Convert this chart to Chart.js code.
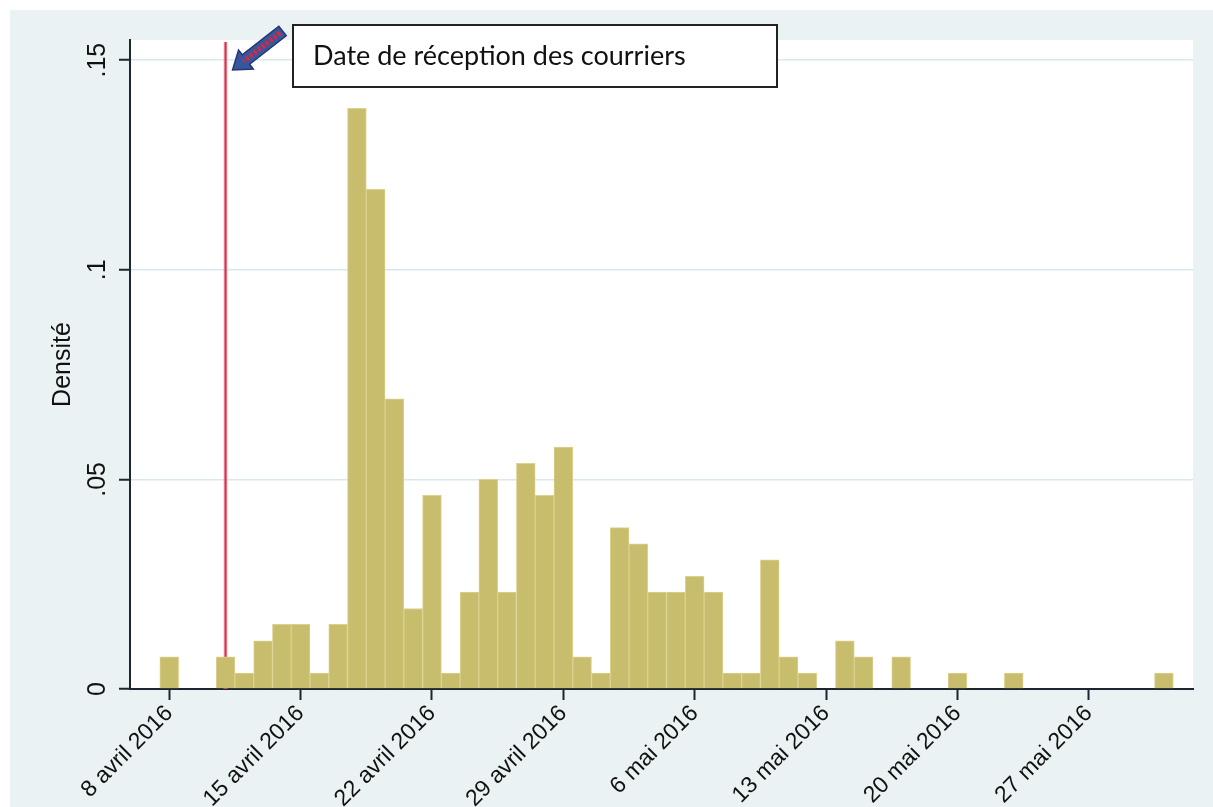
<!DOCTYPE html>
<html>
<head>
<meta charset="utf-8">
<script src="https://cdn.jsdelivr.net/npm/chart.js@4.4.1/dist/chart.umd.min.js"></script>
<style>
  html, body { margin: 0; padding: 0; background: #fff; }
  #wrap { width: 1213px; height: 807px; position: relative; }
</style>
</head>
<body>
<div id="wrap"><canvas id="histo"></canvas></div>
<script>
// --- Data (days counted from 8 avril 2016) ---
const binDay = [0, 3, 4, 5, 6, 7, 8, 9, 10, 11, 12, 13, 14, 15, 16, 17, 18, 19, 20, 21, 22,
  23, 24, 25, 26, 27, 28, 29, 30, 31, 32, 33, 34, 36, 37, 39, 42, 45, 53];
const density = [0.0077, 0.0077, 0.0038, 0.0115, 0.0154, 0.0154, 0.0038, 0.0154, 0.1385, 0.1192,
  0.0692, 0.0192, 0.0462, 0.0038, 0.0231, 0.05, 0.0231, 0.0538, 0.0462, 0.0577, 0.0077,
  0.0038, 0.0385, 0.0346, 0.0231, 0.0231, 0.0269, 0.0231, 0.0038, 0.0038, 0.0308, 0.0077,
  0.0038, 0.0115, 0.0077, 0.0077, 0.0038, 0.0038, 0.0038];

const tickDays = [0, 7, 14, 21, 28, 35, 42, 49];
const tickLabels = ["8 avril 2016", "15 avril 2016", "22 avril 2016", "29 avril 2016",
  "6 mai 2016", "13 mai 2016", "20 mai 2016", "27 mai 2016"];
const yTicks = [0, 0.05, 0.1, 0.15];
const yTickLabels = ["0", ".05", ".1", ".15"];

const receptionDay = 3; // 11 avril 2016
const noteText = "Date de réception des courriers";

const AXIS = "#1c2630";
const FONT = "Arial, 'Liberation Sans', sans-serif";
const canvas = document.getElementById("histo");

// --- Background, red line and note ---
const decor = {
  id: "decor",
  beforeDraw(chart) {
    const { ctx, chartArea: a } = chart;
    ctx.save();
    ctx.fillStyle = "#ffffff";
    ctx.fillRect(0, 0, chart.width, chart.height);
    ctx.fillStyle = "#eaf2f3";
    ctx.fillRect(10, 10, chart.width - 10, chart.height - 10);
    ctx.fillStyle = "#ffffff";
    ctx.fillRect(a.left, a.top, a.right - a.left, a.bottom - a.top);
    ctx.restore();
  },
  beforeDatasetsDraw(chart) {
    const { ctx, chartArea: a } = chart;
    const x = chart.scales.x.getPixelForValue(receptionDay);
    ctx.save();
    ctx.strokeStyle = "rgba(240,150,160,0.6)";
    ctx.lineWidth = 4;
    ctx.beginPath();
    ctx.moveTo(x, a.top + 2);
    ctx.lineTo(x, a.bottom);
    ctx.stroke();
    ctx.strokeStyle = "#d62f4a";
    ctx.lineWidth = 2;
    ctx.stroke();
    ctx.restore();
  },
  afterDraw(chart) {
    const { ctx } = chart;
    const x = chart.scales.x.getPixelForValue(receptionDay);

    // note box
    ctx.save();
    ctx.fillStyle = "#ffffff";
    ctx.fillRect(293, 25, 484, 62);
    ctx.strokeStyle = "#222";
    ctx.lineWidth = 2;
    ctx.strokeRect(293, 25, 484, 62);
    ctx.fillStyle = "#111";
    ctx.font = "27px Lato, 'Open Sans', sans-serif";
    ctx.textBaseline = "middle";
    ctx.fillText(noteText, 313, 56);

    // block arrow pointing at the red line
    const tip = { x: x + 7, y: 70 };
    const tail = { x: x + 57, y: 31 };
    const ang = Math.atan2(tip.y - tail.y, tip.x - tail.x);
    const len = Math.hypot(tip.x - tail.x, tip.y - tail.y);
    ctx.translate(tail.x, tail.y);
    ctx.rotate(ang);
    const hw = 6, head = 17, hh = 12;
    ctx.beginPath();
    ctx.moveTo(0, -hw);
    ctx.lineTo(len - head, -hw);
    ctx.lineTo(len - head, -hh);
    ctx.lineTo(len, 0);
    ctx.lineTo(len - head, hh);
    ctx.lineTo(len - head, hw);
    ctx.lineTo(0, hw);
    ctx.closePath();
    ctx.fillStyle = "#3656a0";
    ctx.fill();
    ctx.strokeStyle = "#24376e";
    ctx.lineWidth = 1.5;
    ctx.stroke();
    ctx.strokeStyle = "#d8283c";
    ctx.lineWidth = 5;
    ctx.setLineDash([3, 2]);
    ctx.beginPath();
    ctx.moveTo(3, 0);
    ctx.lineTo(len - head + 3, 0);
    ctx.stroke();
    ctx.restore();
  }
};

const chart = new Chart(canvas, {
  type: "bar",
  data: {
    datasets: [{
      label: "Densité",
      data: binDay.map((d, i) => ({ x: d, y: density[i] })),
      backgroundColor: "#c8bd6c",
      borderColor: "#ddd190",
      borderWidth: 1,
      barPercentage: 1,
      categoryPercentage: 1
    }]
  },
  options: {
    responsive: true,
    maintainAspectRatio: false,
    animation: false,
    devicePixelRatio: 1,
    layout: { padding: { top: 40, right: 20, left: 0, bottom: 0 } },
    plugins: { legend: { display: false }, tooltip: { enabled: false } },
    scales: {
      x: {
        type: "linear",
        min: -2.09,
        max: 54.55,
        offset: false,
        afterBuildTicks: s => { s.ticks = tickDays.map(v => ({ value: v })); },
        afterFit: s => { s.height = 118; },
        ticks: {
          autoSkip: false,
          minRotation: 45,
          maxRotation: 45,
          padding: 0,
          color: "#111",
          font: { family: FONT, size: 23 },
          callback: v => tickLabels[tickDays.indexOf(v)]
        },
        grid: { drawOnChartArea: false, offset: false, tickLength: 11, tickColor: AXIS, tickWidth: 2 },
        border: { color: AXIS, width: 2 }
      },
      y: {
        min: 0,
        max: 0.1548,
        afterBuildTicks: s => { s.ticks = yTicks.map(v => ({ value: v })); },
        afterFit: s => { s.width = 130; },
        ticks: {
          minRotation: 90,
          maxRotation: 90,
          crossAlign: "center",
          padding: 4,
          color: "#111",
          font: { family: FONT, size: 25 },
          callback: v => yTickLabels[yTicks.indexOf(v)]
        },
        grid: {
          color: c => (c.tick && c.tick.value > 0 ? "#d9e8ef" : "rgba(0,0,0,0)"),
          lineWidth: 1.5,
          tickLength: 11,
          tickColor: AXIS,
          tickWidth: 2
        },
        border: { color: AXIS, width: 2 },
        title: {
          display: true,
          text: "Densité",
          color: "#111",
          padding: { top: 48, bottom: 0 },
          font: { family: FONT, size: 25 }
        }
      }
    }
  },
  plugins: [decor]
});
</script>
</body>
</html>
